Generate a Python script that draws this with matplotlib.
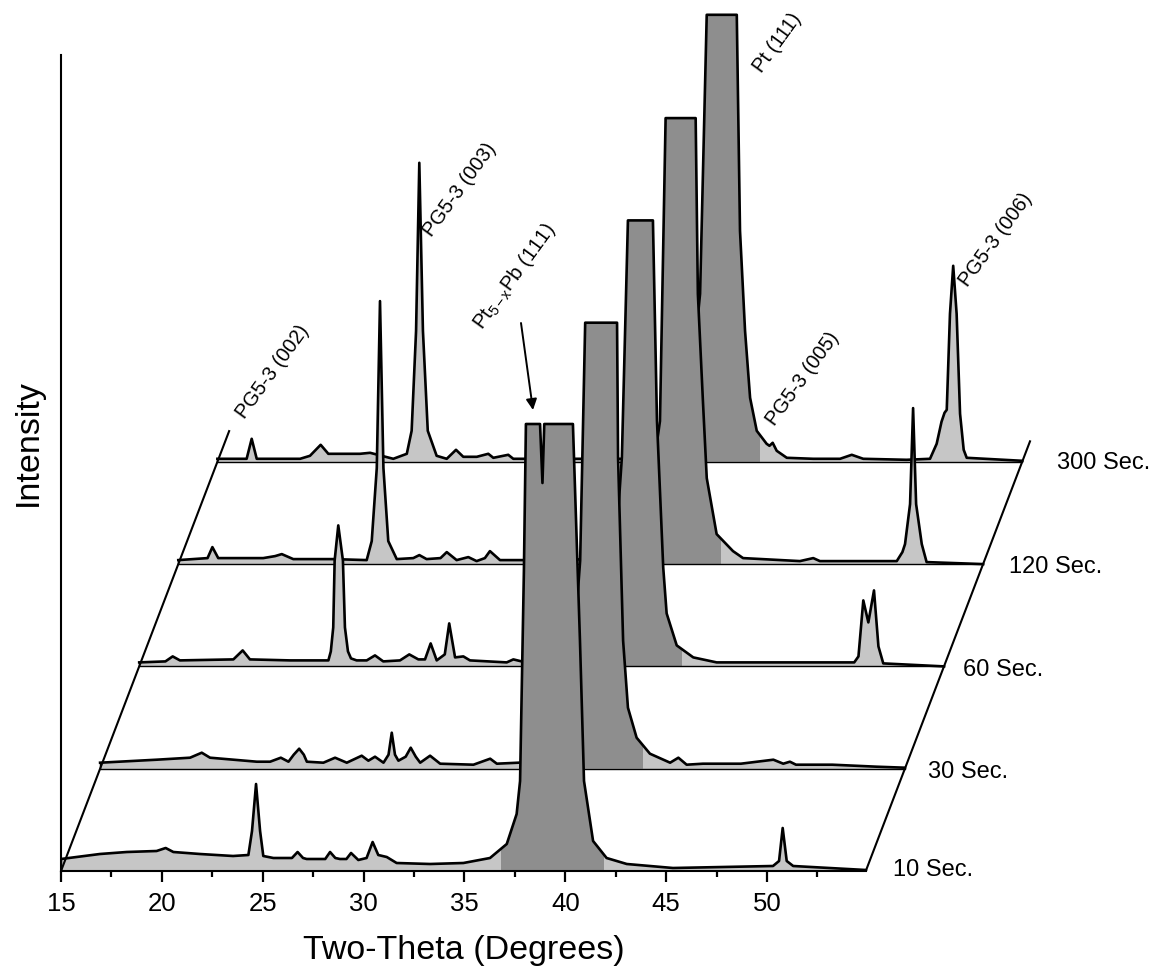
import numpy as np
import matplotlib.pyplot as plt
from matplotlib.ticker import FixedLocator

plt.rcParams['font.family'] = ['Liberation Sans', 'DejaVu Sans']
plt.rcParams['mathtext.fontset'] = 'custom'
plt.rcParams['mathtext.rm'] = 'Liberation Sans'
plt.rcParams['mathtext.it'] = 'Liberation Sans:italic'

W, H = 1157, 973
PX_PER_DEG = 20.17

# digitised XRD patterns: (two-theta in degrees, intensity in a.u.), tall peaks clipped
sec10 = [(15.0, 12), (16.93, 17), (18.26, 19), (19.74, 20), (20.19, 23), (20.57, 19), (21.89, 17),
         (23.53, 15), (24.29, 16), (24.47, 40), (24.67, 87), (24.87, 40), (25.03, 15), (25.53, 13),
         (26.45, 13), (26.73, 19), (27.0, 13), (27.18, 12), (28.1, 12), (28.34, 19), (28.6, 13),
         (28.83, 12), (29.15, 12), (29.38, 18), (29.74, 11), (30.15, 13), (30.45, 29), (30.73, 16),
         (31.15, 14), (31.64, 8), (33.3, 7), (34.95, 8), (36.27, 13), (37.1, 27), (37.59, 57),
         (37.76, 90), (37.95, 300), (38.05, 447), (38.75, 447), (38.87, 388), (38.96, 447),
         (40.38, 447), (40.73, 230), (40.93, 90), (41.38, 30), (42.05, 13), (43.05, 7), (45.34, 3),
         (50.3, 5), (50.6, 10), (50.78, 43), (50.98, 10), (51.3, 5), (54.9, 1)]
sec30 = [(15.0, 6), (17.81, 9), (19.46, 11), (20.04, 16), (20.45, 11), (22.77, 7), (23.43, 7),
         (23.96, 11), (24.34, 7), (24.6, 14), (24.87, 20), (25.1, 14), (25.25, 7), (26.07, 6),
         (26.65, 11), (27.23, 6), (27.97, 13), (28.3, 8), (28.63, 12), (29.05, 6), (29.3, 14),
         (29.46, 36), (29.62, 14), (29.79, 8), (30.15, 12), (30.4, 21), (30.65, 12), (30.87, 6),
         (31.36, 13), (31.86, 5), (33.51, 4), (34.34, 10), (34.67, 5), (35.74, 6), (36.8, 8),
         (37.7, 25), (38.3, 70), (38.8, 208), (39.05, 446), (40.63, 446), (40.68, 311), (40.93, 128),
         (41.17, 61), (41.6, 31), (42.26, 15), (43.26, 6), (43.67, 11), (44.08, 4), (44.89, 5),
         (46.77, 5), (48.38, 9), (48.87, 5), (49.2, 7), (49.5, 4), (51.3, 4), (53.5, 2), (54.9, 1)]
sec60 = [(15.0, 4), (16.3, 5), (16.66, 10), (17.02, 6), (19.67, 7), (20.13, 16), (20.49, 7),
         (22.48, 6), (24.38, 6), (24.5, 15), (24.62, 39), (24.69, 106), (24.87, 141), (25.1, 106),
         (25.2, 39), (25.35, 15), (25.5, 8), (25.78, 6), (26.28, 6), (26.69, 11), (27.1, 5),
         (27.93, 6), (28.39, 12), (28.84, 7), (29.17, 7), (29.45, 23), (29.75, 6), (30.15, 12),
         (30.37, 43), (30.66, 9), (31.07, 10), (31.4, 6), (33.22, 4), (33.55, 7), (33.96, 5),
         (36.5, 6), (37.8, 25), (38.5, 80), (38.93, 209), (39.23, 446), (40.47, 446), (40.67, 246),
         (40.98, 99), (41.15, 53), (41.65, 21), (42.47, 9), (43.63, 4), (46.44, 4), (50.45, 4),
         (50.66, 10), (50.9, 66), (51.15, 44), (51.43, 76), (51.65, 20), (51.89, 3), (54.9, 0)]
sec120 = [(15.0, 4), (16.45, 6), (16.69, 17), (16.98, 6), (19.21, 6), (19.8, 8), (20.13, 10),
          (20.7, 5), (22.68, 5), (24.34, 4), (24.59, 23), (24.84, 96), (25.0, 263), (25.17, 96),
          (25.41, 23), (25.83, 5), (26.65, 6), (26.95, 9), (27.31, 5), (28.0, 6), (28.31, 12),
          (28.8, 4), (29.38, 7), (29.79, 3), (30.2, 6), (30.45, 13), (30.95, 4), (32.1, 4), (36.0, 5),
          (37.5, 20), (38.3, 60), (38.88, 143), (39.16, 446), (40.65, 446), (40.76, 270),
          (41.01, 163), (41.2, 86), (41.69, 30), (42.5, 13), (43.0, 6), (45.82, 3), (46.48, 6),
          (46.81, 3), (50.62, 3), (50.9, 12), (51.03, 20), (51.28, 60), (51.43, 156), (51.58, 60),
          (51.86, 20), (52.1, 2), (54.9, 0)]
sec300 = [(15.0, 3), (16.45, 3), (16.7, 23), (16.95, 3), (19.1, 3), (19.59, 6), (20.12, 17),
          (20.5, 8), (21.08, 8), (22.07, 8), (22.57, 9), (23.72, 3), (24.39, 8), (24.63, 31),
          (24.85, 131), (25.01, 299), (25.19, 131), (25.43, 31), (25.87, 6), (26.37, 3), (26.83, 12),
          (27.19, 5), (27.86, 5), (28.43, 8), (28.68, 4), (29.42, 7), (29.67, 3), (30.25, 3),
          (35.07, 3), (36.85, 8), (38.0, 40), (38.6, 100), (38.93, 168), (39.26, 447), (40.75, 447),
          (40.91, 231), (41.16, 131), (41.41, 64), (41.74, 31), (42.23, 18), (42.37, 16), (42.53, 19),
          (42.73, 11), (43.23, 4), (44.54, 3), (45.87, 3), (46.45, 7), (47.02, 3), (49.17, 2),
          (50.33, 3), (50.66, 18), (50.9, 40), (51.05, 49), (51.16, 52), (51.32, 148), (51.48, 196),
          (51.65, 148), (51.82, 48), (52.0, 12), (52.15, 4), (54.9, 1)]

patterns = [sec10, sec30, sec60, sec120, sec300]
series_labels = ['10 Sec.', '30 Sec.', '60 Sec.', '120 Sec.', '300 Sec.']
x_ticks = [15, 20, 25, 30, 35, 40, 45, 50]
x_minor = [17.5, 22.5, 27.5, 32.5, 37.5, 42.5, 47.5, 52.5]
x_start, x_end = 15.0, 54.9

DX = 39.1 / PX_PER_DEG   # waterfall shift per pattern (deg)
DY = 102.3               # waterfall shift per pattern (a.u.)
FILL = '#c6c6c6'
FILL_DARK = '#8e8e8e'


def fig_xy(px, py):
    return px / W, 1 - py / H


fig = plt.figure(figsize=(W / 100, H / 100), dpi=100)
ax = fig.add_axes([61 / W, 102 / H, 1 - 61 / W, 1 - 102 / H])
ax.set_xlim(x_start, x_start + (W - 61) / PX_PER_DEG)
ax.set_ylim(0, 871)
ax.patch.set_visible(False)

# back to front so the front patterns hide the ones behind
for k in range(len(patterns) - 1, -1, -1):
    tt, inten = np.array(patterns[k], dtype=float).T
    x = tt + k * DX
    base = k * DY
    z = 10 + (4 - k) * 4
    poly = ax.fill_between(x, base, inten + base, color=FILL, lw=0, zorder=z)
    dark = ax.fill_between([36.8 + k * DX, 41.9 + k * DX], base, base + 460,
                           color=FILL_DARK, lw=0, zorder=z + 1)
    dark.set_clip_path(poly.get_paths()[0], ax.transData)
    ax.plot(x, inten + base, color='black', lw=1.9, zorder=z + 2, solid_joinstyle='round')
    ax.plot([x[0], x[0], x[-1], x[-1]], [inten[0] + base, base, base, inten[-1] + base],
            color='black', lw=1.0, zorder=z + 2)

# slanted edges of the floor
ax.plot([x_start, x_start + 4.3 * DX], [0, 4.3 * DY], color='black', lw=1.5, zorder=60)
ax.plot([x_end, x_end + 4.2 * DX], [0, 4.2 * DY], color='black', lw=1.5, zorder=60)

ax.set_xticks(x_ticks)
ax.xaxis.set_minor_locator(FixedLocator(x_minor))
ax.tick_params(axis='x', which='major', direction='out', length=8, width=1.6, labelsize=18.5, pad=7)
ax.tick_params(axis='x', which='minor', direction='out', length=4.5, width=1.6)
ax.set_yticks([])
for side in ['top', 'right']:
    ax.spines[side].set_visible(False)
ax.spines['bottom'].set_bounds(x_start, x_end)
ax.spines['left'].set_bounds(0, 816)
for side in ['bottom', 'left']:
    ax.spines[side].set_linewidth(1.5)
    ax.spines[side].set_zorder(70)

# pattern names at the right end of each baseline
label_pos = [(893, 870), (928, 772), (963, 670), (1009, 567), (1057, 463)]
for label, (px, py) in zip(series_labels, label_pos):
    fig.text(*fig_xy(px, py), label, fontsize=17, ha='left', va='center')

# peak labels
peak_labels = [
    ('PG5-3 (002)', (245, 420)),
    ('PG5-3 (003)', (432, 238)),
    ('Pt$_{\\mathrm{5-x}}$Pb (111)', (482, 330)),
    ('Pt (111)', (762, 74)),
    ('PG5-3 (005)', (775, 427)),
    ('PG5-3 (006)', (968, 288)),
]
for text, (px, py) in peak_labels:
    fig.text(*fig_xy(px, py), text, fontsize=14.5, rotation=54, rotation_mode='anchor',
             ha='left', va='baseline')

ax.annotate('', xy=fig_xy(533, 410), xycoords='figure fraction',
            xytext=fig_xy(521, 323), textcoords='figure fraction',
            arrowprops=dict(arrowstyle='-|>', color='black', lw=1.4, mutation_scale=16,
                            shrinkA=0, shrinkB=0), zorder=80)

fig.text(*fig_xy(464, 951), 'Two-Theta (Degrees)', fontsize=24.5, ha='center', va='center')
fig.text(*fig_xy(28, 443), 'Intensity', fontsize=24.5, rotation=90, ha='center', va='center')

fig.savefig('out.png', dpi=100)
